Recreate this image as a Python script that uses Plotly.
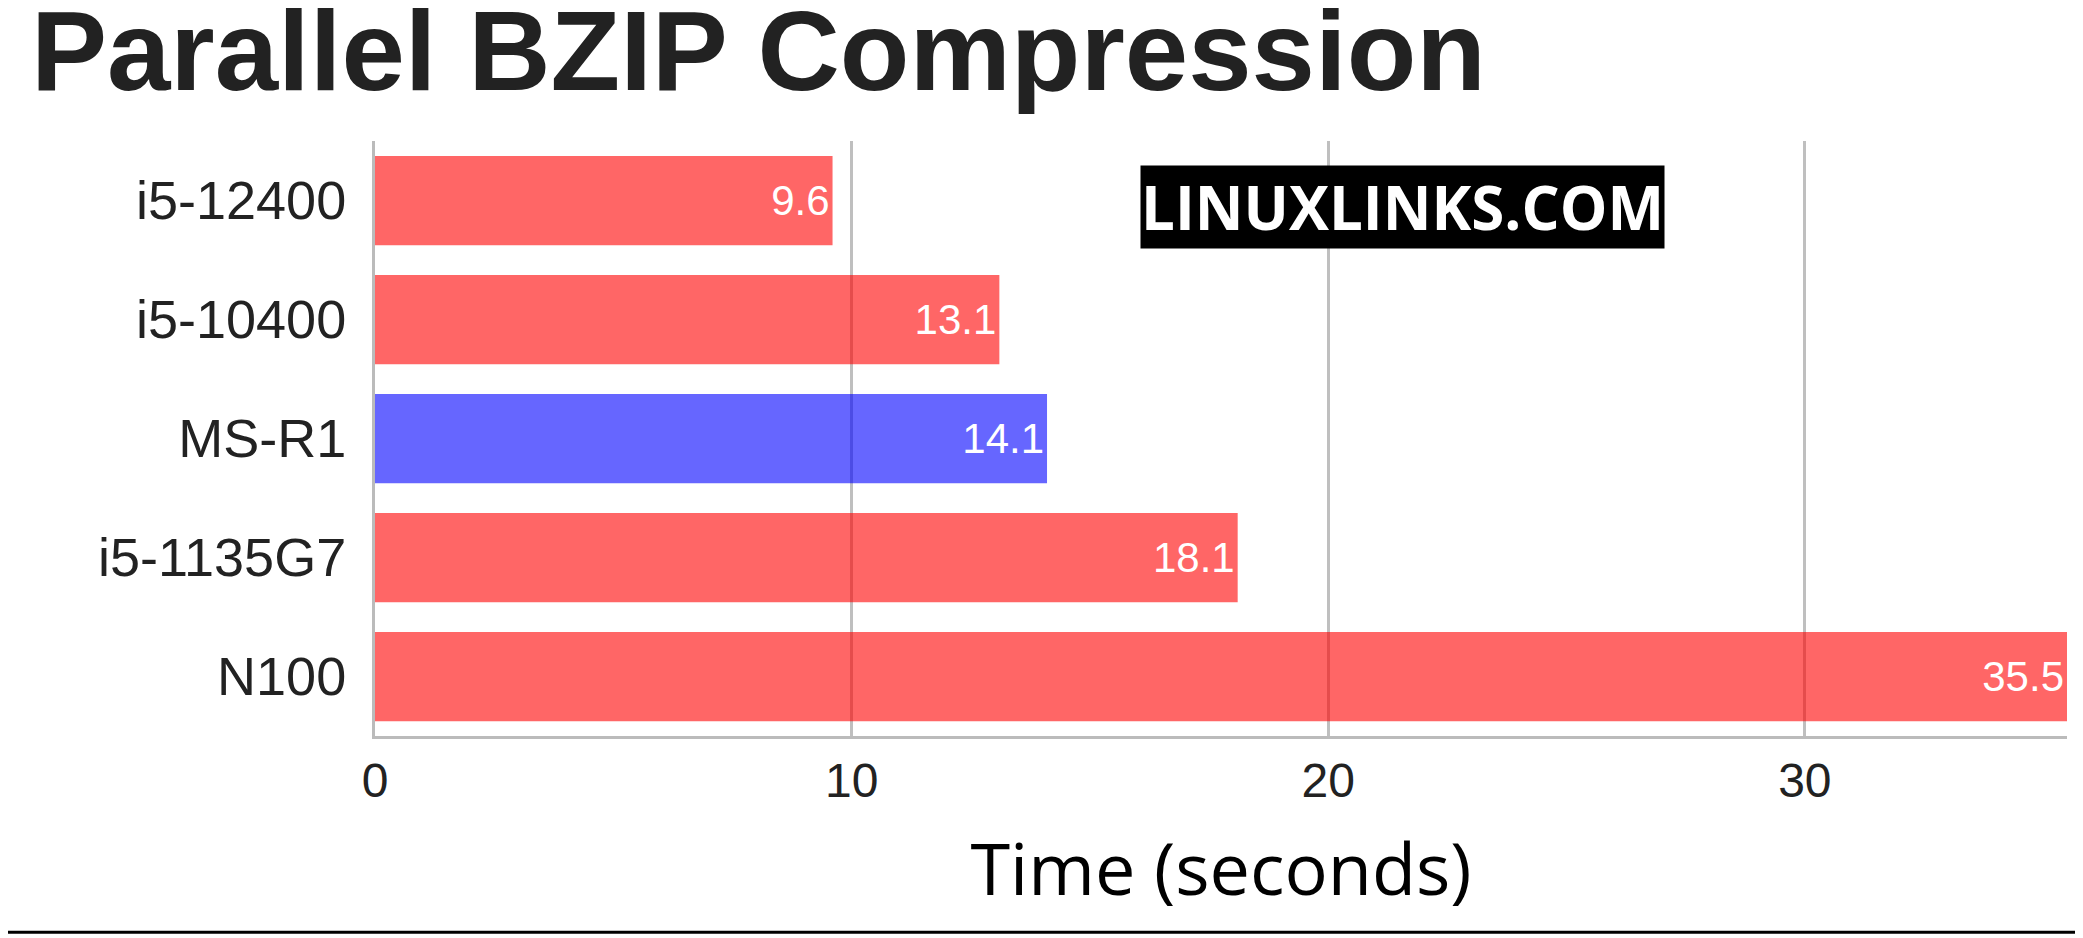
import plotly.graph_objects as go

# data, top to bottom as drawn
cpus = ['i5-12400', 'i5-10400', 'MS-R1', 'i5-1135G7', 'N100']
times = [9.6, 13.1, 14.1, 18.1, 35.5]
colors = ['rgba(255,0,0,0.6)', 'rgba(255,0,0,0.6)', 'rgba(0,0,255,0.6)',
          'rgba(255,0,0,0.6)', 'rgba(255,0,0,0.6)']
x_ticks = [0, 10, 20, 30]

fig = go.Figure(go.Bar(
    x=times, y=cpus, orientation='h',
    marker_color=colors, marker_line_width=0,
    text=[str(t) for t in times], textposition='inside', insidetextanchor='end',
    textfont=dict(color='white', size=42, family='Liberation Sans'),
    width=0.75,
))

fig.update_layout(
    width=2083, height=938,
    plot_bgcolor='white', paper_bgcolor='white',
    margin=dict(l=367, r=24, t=133, b=210),
    showlegend=False,
    title=dict(text='<b>Parallel BZIP Compression</b>', x=0.011, xanchor='left',
               y=0.998, yanchor='top',
               font=dict(family='Liberation Sans', size=114, color='#222222')),
    annotations=[dict(text='<b>LINUXLINKS.COM</b>', xref='paper', yref='paper',
                      x=0.607, y=0.96, showarrow=False, bgcolor='black',
                      font=dict(family='Open Sans', size=60, color='white'),
                      borderpad=0)],
    shapes=[dict(type='line', xref='paper', yref='paper', x0=-0.3, x1=1.1,
                 y0=-0.33, y1=-0.33, line=dict(color='black', width=3))],
)
fig.update_xaxes(range=[0, 35.5], tickvals=x_ticks, showgrid=True,
                 gridcolor='rgba(0,0,0,0.25)', gridwidth=3, layer='above traces',
                 zeroline=False, showline=True, linecolor='#bbbbbb', linewidth=3,
                 tickfont=dict(family='Liberation Sans', size=48, color='#222222'),
                 title=dict(text='Time (seconds)', standoff=40,
                            font=dict(family='Open Sans', size=72, color='black')))
fig.update_yaxes(autorange='reversed', showline=True, linecolor='#bbbbbb', linewidth=3,
                 tickfont=dict(family='Liberation Sans', size=54, color='#222222'),
                 ticksuffix=' ')

fig.write_html("out.html")
